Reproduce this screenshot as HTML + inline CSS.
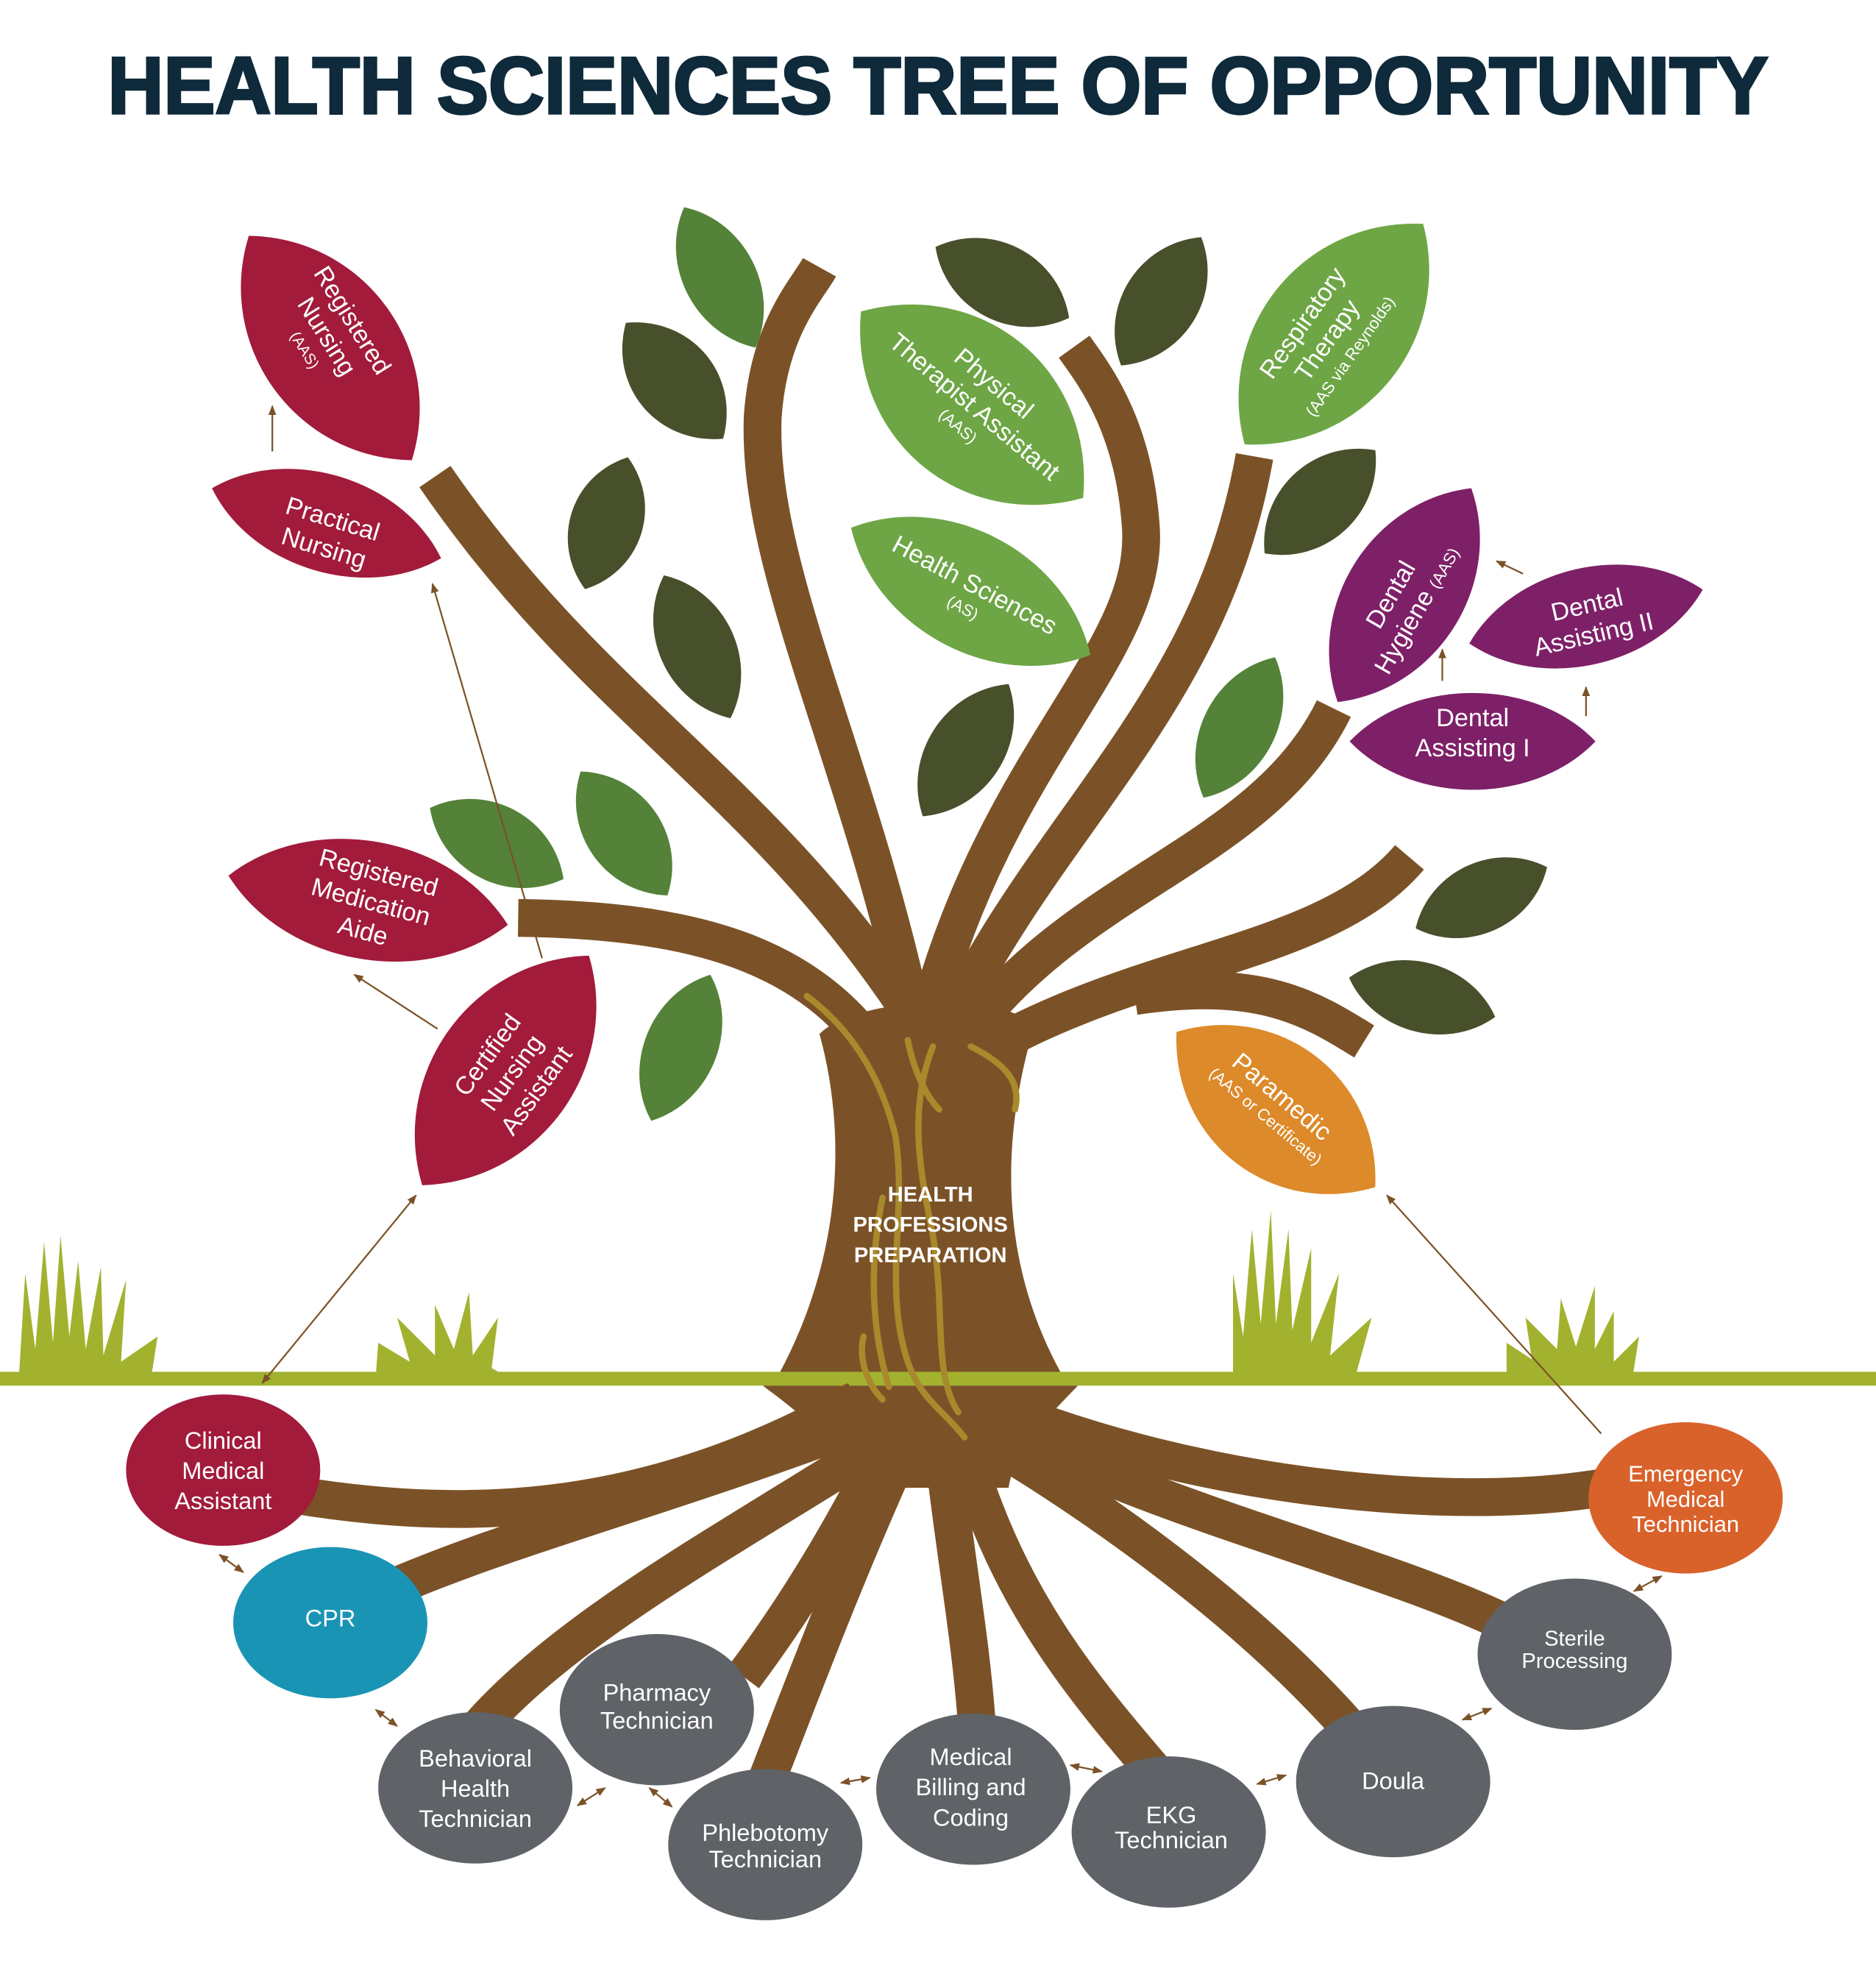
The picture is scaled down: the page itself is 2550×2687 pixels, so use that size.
<!DOCTYPE html>
<html><head><meta charset="utf-8"><style>
html,body{margin:0;padding:0;background:#fff;}
svg{display:block;}
text{font-family:"Liberation Sans",sans-serif;}
</style></head><body>
<svg width="2550" height="2687" viewBox="0 0 1488 1568" preserveAspectRatio="none" xmlns="http://www.w3.org/2000/svg">
<defs>
<marker id="ah" viewBox="0 0 10 10" refX="9" refY="5" markerWidth="6" markerHeight="6" orient="auto-start-reverse"><path d="M0,1 L10,5 L0,9 Z" fill="#7b5227"/></marker>
<path id="lf" d="M-50,0 C-25,-32 25,-32 50,0 C25,32 -25,32 -50,0 Z"/>
</defs>
<rect width="1488" height="1568" fill="#fff"/>
<text x="744" y="90" text-anchor="middle" font-size="64" font-weight="bold" fill="#0e2a3b" stroke="#0e2a3b" stroke-width="2" textLength="1317" lengthAdjust="spacingAndGlyphs">HEALTH SCIENCES TREE OF OPPORTUNITY</text>

<!-- grass -->
<g fill="#a2b22f">
<path d="M15,1092 L20,1010 L28,1070 L35,985 L42,1065 L48,980 L55,1060 L62,1000 L68,1070 L80,1005 L82,1075 L100,1015 L96,1080 L125,1060 L120,1092 Z"/>
<path d="M298,1092 L300,1065 L325,1080 L315,1045 L345,1075 L345,1035 L360,1070 L372,1025 L375,1075 L395,1045 L390,1085 L402,1092 Z"/>
<path d="M978,1092 L978,1010 L986,1060 L993,975 L1000,1050 L1008,960 L1012,1050 L1022,975 L1025,1055 L1040,990 L1040,1065 L1062,1010 L1055,1075 L1088,1045 L1075,1092 Z"/>
<path d="M1195,1092 L1195,1065 L1215,1078 L1210,1045 L1235,1070 L1238,1030 L1250,1068 L1265,1020 L1265,1070 L1280,1040 L1280,1080 L1300,1060 L1295,1092 Z"/>
</g>

<!-- branches -->
<g fill="none" stroke="#7b5227" stroke-width="30" stroke-linecap="butt">
<path d="M720,800 C600,620 470,560 345,378"/>
<path d="M725,810 C680,600 600,450 605,330 C610,260 640,230 650,212"/>
<path d="M735,810 C790,600 910,520 905,420 C900,340 870,300 852,275"/>
<path d="M750,820 C830,650 960,560 995,362"/>
<path d="M760,830 C850,700 1000,680 1058,562"/>
<path d="M770,840 C900,760 1050,760 1118,680"/>
<path d="M900,790 C1000,775 1040,800 1082,826"/>
<path d="M411,728 C560,730 650,760 705,850"/>
</g>
<!-- trunk -->
<path d="M650,820 C680,790 800,785 820,815 C795,900 790,1000 845,1095 L615,1095 C668,1000 672,900 650,820 Z" fill="#7b5227"/>
<rect x="0" y="1088" width="1488" height="11" fill="#a2b22f"/>
<path d="M605,1099 L855,1099 C825,1130 805,1150 800,1180 L680,1180 C670,1150 640,1125 605,1099 Z" fill="#7b5227"/>
<!-- trunk texture -->
<g fill="none" stroke="#a8892c" stroke-width="5" stroke-linecap="round">
<path d="M640,790 C680,820 700,860 710,900 C720,960 700,1020 720,1080 C730,1110 750,1120 765,1140"/>
<path d="M740,830 C720,880 730,930 740,980 C750,1040 740,1090 760,1120"/>
<path d="M770,830 C800,845 810,860 805,880"/>
<path d="M700,950 C690,1000 690,1050 705,1100"/>
<path d="M685,1060 C680,1080 690,1100 700,1110"/>
<path d="M720,825 C725,850 735,870 745,880"/>
<path d="M670,1100 L672,1115"/>
</g>
<!-- roots -->
<g fill="none" stroke="#7b5227" stroke-width="30">
<path d="M680,1110 C520,1200 380,1210 230,1185"/>
<path d="M680,1130 C520,1190 400,1220 305,1262"/>
<path d="M690,1150 C580,1220 450,1290 380,1370"/>
<path d="M700,1150 C660,1230 620,1290 590,1330"/>
<path d="M715,1150 C670,1250 640,1330 605,1420"/>
<path d="M748,1150 C760,1250 770,1300 775,1370"/>
<path d="M765,1150 C800,1270 860,1340 920,1410"/>
<path d="M780,1140 C880,1200 990,1280 1070,1370"/>
<path d="M790,1130 C920,1200 1100,1240 1200,1290"/>
<path d="M790,1115 C950,1180 1150,1200 1270,1180"/>
</g>

<!-- plain leaves -->
<g>
<use href="#lf" transform="translate(571,220) rotate(63) scale(1.25,1.2)" fill="#548239"/>
<use href="#lf" transform="translate(535,302) rotate(50) scale(1.2,1.35)" fill="#47502b"/>
<use href="#lf" transform="translate(481,415) rotate(-72) scale(1.1,1.2)" fill="#47502b"/>
<use href="#lf" transform="translate(553,513) rotate(65) scale(1.25,1.25)" fill="#47502b"/>
<use href="#lf" transform="translate(394,669) rotate(28) scale(1.2,1.25)" fill="#548239"/>
<use href="#lf" transform="translate(495,661) rotate(55) scale(1.2,1.25)" fill="#548239"/>
<use href="#lf" transform="translate(540,831) rotate(-68) scale(1.25,1.2)" fill="#548239"/>
<use href="#lf" transform="translate(795,224) rotate(28) scale(1.2,1.25)" fill="#47502b"/>
<use href="#lf" transform="translate(921,239) rotate(-58) scale(1.2,1.25)" fill="#47502b"/>
<use href="#lf" transform="translate(766,595) rotate(-57) scale(1.25,1.25)" fill="#47502b"/>
<use href="#lf" transform="translate(1047,398) rotate(-43) scale(1.2,1.25)" fill="#47502b"/>
<use href="#lf" transform="translate(983,577) rotate(-63) scale(1.25,1.2)" fill="#548239"/>
<use href="#lf" transform="translate(1175,712) rotate(-25) scale(1.15,1.15)" fill="#47502b"/>
<use href="#lf" transform="translate(1128,791) rotate(15) scale(1.2,1.15)" fill="#47502b"/>
</g>
<!-- labeled leaves -->
<use href="#lf" transform="translate(262,276) rotate(54) scale(2.2,2.3)" fill="#a21b3b"/>
<use href="#lf" transform="translate(259,415) rotate(17) scale(1.9,1.6)" fill="#a21b3b"/>
<use href="#lf" transform="translate(292,714) rotate(10) scale(2.25,1.95)" fill="#a21b3b"/>
<use href="#lf" transform="translate(401,849) rotate(-54) scale(2.25,2.3)" fill="#a21b3b"/>
<use href="#lf" transform="translate(771,321) rotate(40) scale(2.3,2.6)" fill="#6ea646"/>
<use href="#lf" transform="translate(1058,265) rotate(-51) scale(2.25,2.4)" fill="#6ea646"/>
<use href="#lf" transform="translate(770,469) rotate(28) scale(2.15,1.95)" fill="#6ea646"/>
<use href="#lf" transform="translate(1114,472) rotate(-58) scale(2.0,1.95)" fill="#7e2068"/>
<use href="#lf" transform="translate(1258,489) rotate(-13) scale(1.9,1.6)" fill="#7e2068"/>
<use href="#lf" transform="translate(1168,588) rotate(0) scale(1.95,1.6)" fill="#7e2068"/>
<use href="#lf" transform="translate(1012,880) rotate(38) scale(2.0,2.2)" fill="#dc8a2a"/>

<g fill="#fff" text-anchor="middle" font-size="20">
<g transform="translate(262,265) rotate(58)"><text y="-14">Registered</text><text y="10">Nursing</text><text y="28" font-size="12">(AAS)</text></g>
<g transform="translate(262,418) rotate(17)"><text y="0">Practical</text><text y="24">Nursing</text></g>
<g transform="translate(295,712) rotate(15)"><text y="-14">Registered</text><text y="10">Medication</text><text y="34">Aide</text></g>
<g transform="translate(405,850) rotate(-54)"><text y="-16">Certified</text><text y="8">Nursing</text><text y="32">Assistant</text></g>
<g transform="translate(775,320) rotate(40)"><text y="-14">Physical</text><text y="10">Therapist Assistant</text><text y="28" font-size="13">(AAS)</text></g>
<g transform="translate(1050,268) rotate(-55)"><text y="-14">Respiratory</text><text y="10">Therapy</text><text y="30" font-size="13">(AAS via Reynolds)</text></g>
<g transform="translate(770,470) rotate(28)"><text y="0">Health Sciences</text><text y="18" font-size="13">(AS)</text></g>
<g transform="translate(1114,478) rotate(-60)"><text y="-6">Dental</text><text y="18">Hygiene <tspan font-size="13">(AAS)</tspan></text></g>
<g transform="translate(1262,494) rotate(-13)"><text y="-8">Dental</text><text y="16">Assisting II</text></g>
<g transform="translate(1168,588)"><text y="-12">Dental</text><text y="12">Assisting I</text></g>
<g transform="translate(1010,878) rotate(40)"><text y="-4">Paramedic</text><text y="14" font-size="13">(AAS or Certificate)</text></g>
</g>

<g fill="#fff" text-anchor="middle" font-size="17" font-weight="bold">
<text x="738" y="953">HEALTH</text><text x="738" y="977">PROFESSIONS</text><text x="738" y="1001">PREPARATION</text>
</g>

<!-- arrows -->
<g stroke="#7b5227" stroke-width="1.3" fill="none">
<line x1="208" y1="1097" x2="330" y2="948" marker-start="url(#ah)" marker-end="url(#ah)"/>
<line x1="347" y1="816" x2="281" y2="773" marker-end="url(#ah)"/>
<line x1="430" y1="760" x2="343" y2="463" marker-end="url(#ah)"/>
<line x1="216" y1="358" x2="216" y2="322" marker-end="url(#ah)"/>
<line x1="1144" y1="540" x2="1144" y2="515" marker-end="url(#ah)"/>
<line x1="1258" y1="568" x2="1258" y2="545" marker-end="url(#ah)"/>
<line x1="1208" y1="455" x2="1187" y2="445" marker-end="url(#ah)"/>
<line x1="1270" y1="1137" x2="1100" y2="948" marker-end="url(#ah)"/>
<line x1="174" y1="1233" x2="193" y2="1247" marker-start="url(#ah)" marker-end="url(#ah)"/>
<line x1="298" y1="1356" x2="315" y2="1369" marker-start="url(#ah)" marker-end="url(#ah)"/>
<line x1="458" y1="1432" x2="480" y2="1418" marker-start="url(#ah)" marker-end="url(#ah)"/>
<line x1="515" y1="1418" x2="533" y2="1433" marker-start="url(#ah)" marker-end="url(#ah)"/>
<line x1="667" y1="1414" x2="690" y2="1410" marker-start="url(#ah)" marker-end="url(#ah)"/>
<line x1="849" y1="1400" x2="874" y2="1405" marker-start="url(#ah)" marker-end="url(#ah)"/>
<line x1="997" y1="1415" x2="1020" y2="1408" marker-start="url(#ah)" marker-end="url(#ah)"/>
<line x1="1160" y1="1364" x2="1183" y2="1355" marker-start="url(#ah)" marker-end="url(#ah)"/>
<line x1="1296" y1="1262" x2="1318" y2="1250" marker-start="url(#ah)" marker-end="url(#ah)"/>
</g>

<!-- root circles -->
<ellipse cx="177" cy="1166" rx="77" ry="60" fill="#a21b3b"/>
<ellipse cx="262" cy="1287" rx="77" ry="60" fill="#1a94b4"/>
<ellipse cx="377" cy="1418" rx="77" ry="60" fill="#5f6266"/>
<ellipse cx="521" cy="1356" rx="77" ry="60" fill="#5f6266"/>
<ellipse cx="607" cy="1463" rx="77" ry="60" fill="#5f6266"/>
<ellipse cx="772" cy="1419" rx="77" ry="60" fill="#5f6266"/>
<ellipse cx="927" cy="1453" rx="77" ry="60" fill="#5f6266"/>
<ellipse cx="1105" cy="1413" rx="77" ry="60" fill="#5f6266"/>
<ellipse cx="1249" cy="1312" rx="77" ry="60" fill="#5f6266"/>
<ellipse cx="1337" cy="1188" rx="77" ry="60" fill="#d9622b"/>
<g fill="#fff" text-anchor="middle" font-size="19">
<text x="177" y="1149">Clinical</text><text x="177" y="1173">Medical</text><text x="177" y="1197">Assistant</text>
<text x="262" y="1290">CPR</text>
<text x="377" y="1401">Behavioral</text><text x="377" y="1425">Health</text><text x="377" y="1449">Technician</text>
<text x="521" y="1349">Pharmacy</text><text x="521" y="1371">Technician</text>
<text x="607" y="1460">Phlebotomy</text><text x="607" y="1481">Technician</text>
<text x="770" y="1400">Medical</text><text x="770" y="1424">Billing and</text><text x="770" y="1448">Coding</text>
<text x="929" y="1446">EKG</text><text x="929" y="1466">Technician</text>
<text x="1105" y="1419">Doula</text>
<text x="1249" y="1305" font-size="17">Sterile</text><text x="1249" y="1323" font-size="17">Processing</text>
<text x="1337" y="1175" font-size="18">Emergency</text><text x="1337" y="1195" font-size="18">Medical</text><text x="1337" y="1215" font-size="18">Technician</text>
</g>
</svg>
</body></html>
